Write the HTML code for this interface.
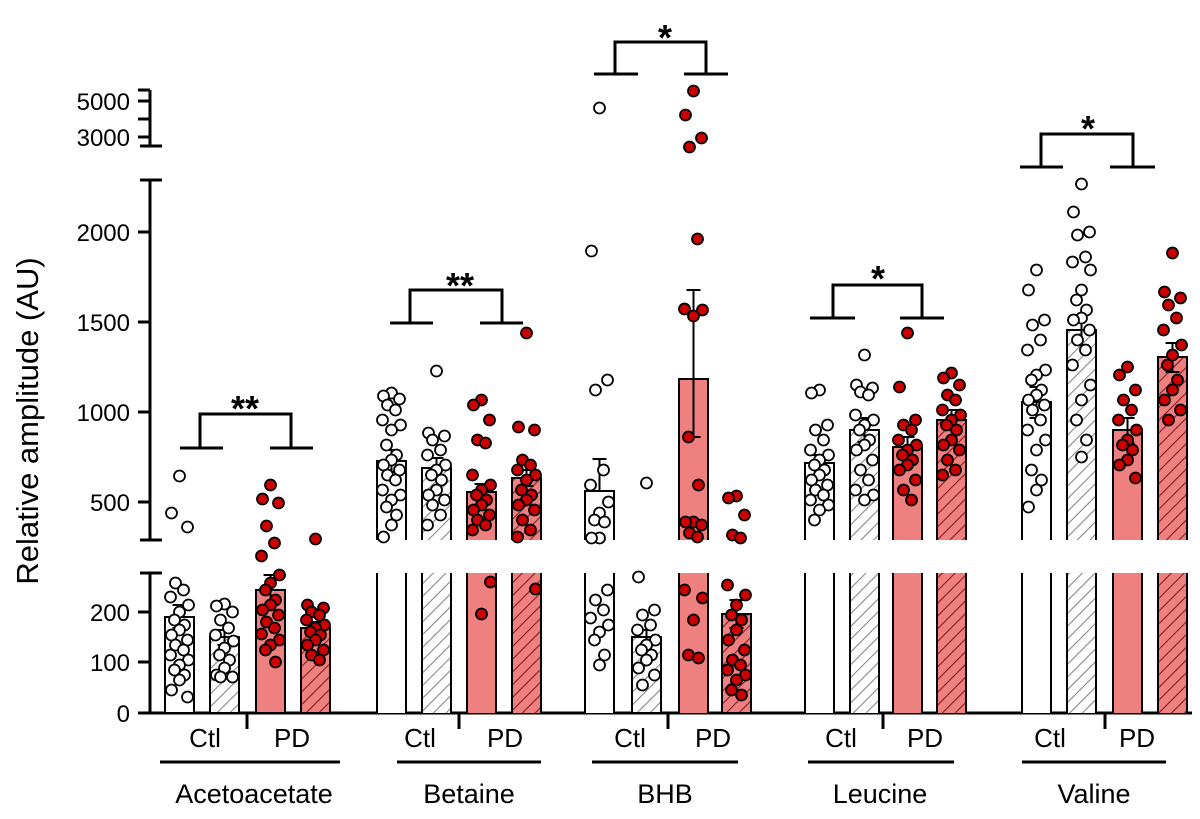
<!DOCTYPE html>
<html><head><meta charset="utf-8"><style>
body{margin:0;background:#fff;}
svg{display:block;font-family:"Liberation Sans",Arial,sans-serif;}
</style></head><body>
<svg id="s" width="1200" height="819" viewBox="0 0 1200 819" xmlns="http://www.w3.org/2000/svg">
<defs>
<pattern id="hw" patternUnits="userSpaceOnUse" width="9" height="9" patternTransform="rotate(45)"><rect width="9" height="9" fill="#fff"/><line x1="0" y1="0" x2="0" y2="9" stroke="#888" stroke-width="2.2"/></pattern>
<pattern id="hr" patternUnits="userSpaceOnUse" width="9" height="9" patternTransform="rotate(45)"><rect width="9" height="9" fill="#ee8080"/><line x1="0" y1="0" x2="0" y2="9" stroke="#8b1a1a" stroke-width="2.2"/></pattern>
</defs>
<g id="g"></g>
</svg>
<script>
var g=document.getElementById('g'),h='';
function L(x1,y1,x2,y2,w){h+='<line x1="'+x1+'" y1="'+y1+'" x2="'+x2+'" y2="'+y2+'" stroke="#000" stroke-width="'+(w||3)+'"/>';}
function T(x,y,t,s,a,extra){h+='<text x="'+x+'" y="'+y+'" font-size="'+(s||22)+'" text-anchor="'+(a||'middle')+'" '+(extra||'')+'>'+t+'</text>';}
L(150,573,150,713);L(140,573,162,573);
L(150,180,150,540);L(140,540,162,540);L(140,180,162,180);
L(150,90,150,146);L(140,146,162,146);
[[713,'0'],[662,'100'],[612,'200']].forEach(function(t){L(138,t[0],150,t[0]);T(130,t[0]+9,t[1],24,'end');});
[[502,'500'],[412,'1000'],[322,'1500'],[232,'2000']].forEach(function(t){L(138,t[0],150,t[0]);T(130,t[0]+9,t[1],24,'end');});
[[137,'3000'],[101,'5000']].forEach(function(t){L(138,t[0],150,t[0]);T(130,t[0]+9,t[1],24,'end');});
L(138,119,150,119);L(138,90,150,90);
h+='<text x="0" y="0" font-size="31" text-anchor="middle" transform="translate(38,421) rotate(-90)">Relative amplitude (AU)</text>';
L(148,713,1192,713);
var groups=[
{x:[165,210,256,301],name:'Acetoacetate',tick:247,ul:[160,340],lab:[205,292],gx:254,
 br:[448,414,180,223,270,313,200,291,'**',245,405],
 bars:[{m:617,e:[605,628],d:[476,513,527,583,590,597,605,612,620,625,630,635,640,645,650,655,660,665,670,675,680,690,697]},
 {m:637,e:[630,645],d:[604,606,612,620,628,635,641,648,655,660,668,675,677,677]},
 {m:590,e:[575,605],d:[485,499,503,526,543,556,575,583,590,600,605,610,615,622,628,634,640,645,650,662]},
 {m:628,e:[622,634],d:[539,605,608,612,615,620,625,628,632,635,640,645,650,655,660]}]},
{x:[377,422,467,512],name:'Betaine',tick:459,ul:[397,541],lab:[420,505],gx:469,
 br:[323,290,390,433,480,523,410,502,'**',460,282],
 bars:[{m:461,e:[450,472],d:[393,396,399,405,410,420,425,430,445,455,460,465,470,475,480,490,495,500,507,515,525,537]},
 {m:468,e:[458,478],d:[371,433,436,440,450,455,465,470,475,480,490,495,500,505,515,525]},
 {m:492,e:[484,500],d:[400,405,420,440,443,475,485,490,495,500,505,510,515,520,525,530,582,614]},
 {m:478,e:[470,486],d:[333,427,430,460,465,470,475,480,490,495,500,505,510,520,530,537,589]}]},
{x:[585,632,679,722],name:'BHB',tick:668,ul:[592,738],lab:[630,713],gx:665,
 br:[74,42,594,638,684,728,615,706,'*',665,34],
 bars:[{m:491,e:[459,491],d:[108,251,380,390,470,485,502,513,520,522,538,538,590,600,610,618,625,632,640,655,665]},
 {m:637,e:[630,644],d:[483,577,610,615,625,630,640,645,650,655,660,668,675,685]},
 {m:379,e:[290,437],d:[91,115,138,147,239,309,310,316,437,485,522,522,525,533,537,590,598,620,655,658]},
 {m:614,e:[600,628],d:[496,498,515,535,538,585,595,605,615,620,630,640,650,660,665,670,675,680,690,695]}]},
{x:[805,850,893,937],name:'Leucine',tick:883,ul:[808,954],lab:[841,925],gx:880,
 br:[318,285,810,855,900,944,833,922,'*',878,275],
 bars:[{m:463,e:[455,470],d:[390,393,425,430,440,450,455,460,465,470,475,480,485,490,495,500,505,510,520]},
 {m:430,e:[418,442],d:[355,385,388,392,395,415,420,425,430,440,445,450,460,470,480,490,495,500]},
 {m:447,e:[437,457],d:[333,387,420,425,430,440,445,450,455,460,465,470,480,490,500]},
 {m:420,e:[410,430],d:[373,378,385,395,400,410,415,420,425,430,440,445,450,460,470,475]}]},
{x:[1022,1067,1113,1158],name:'Valine',tick:1105,ul:[1022,1166],lab:[1050,1137],gx:1094,
 br:[167,134,1020,1063,1110,1155,1041,1133,'*',1088,125],
 bars:[{m:402,e:[387,418],d:[270,290,320,325,340,350,370,375,380,390,395,400,405,410,420,430,440,450,470,480,490,507]},
 {m:330,e:[315,345],d:[184,212,232,235,257,262,270,290,300,310,318,320,330,340,350,365,385,400,420,440,457]},
 {m:430,e:[418,443],d:[367,375,390,400,410,420,430,440,445,450,460,465,478]},
 {m:357,e:[343,372],d:[253,292,298,305,318,330,345,355,365,380,390,400,410,420]}]}
];
var fills=['#fff','url(#hw)','#ee8080','url(#hr)'];
var jit=[0,-8,8,-4,4,-9,9,0,-5,5];
var dots='';
groups.forEach(function(G){
 G.bars.forEach(function(B,i){
  var x=G.x[i],w=29,f=fills[i];
  if(B.m>=573){h+='<rect x="'+x+'" y="'+B.m+'" width="'+w+'" height="'+(713-B.m)+'" fill="'+f+'" stroke="#000" stroke-width="2"/>';}
  else{
   h+='<rect x="'+x+'" y="573" width="'+w+'" height="140" fill="'+f+'" stroke="none"/>';
   h+='<path d="M'+x+' 713 V573 M'+(x+w)+' 573 V713" stroke="#000" stroke-width="2"/>';
   if(B.m<=540){h+='<rect x="'+x+'" y="'+B.m+'" width="'+w+'" height="'+(540-B.m)+'" fill="'+f+'" stroke="none"/>';
    h+='<path d="M'+x+' 540 V'+B.m+' H'+(x+w)+' V540" fill="none" stroke="#000" stroke-width="2"/>';}
  }
  var cx=x+w/2;
  h+='<path d="M'+cx+' '+B.e[0]+' V'+B.e[1]+' M'+(cx-7)+' '+B.e[0]+' H'+(cx+7)+' M'+(cx-7)+' '+B.e[1]+' H'+(cx+7)+'" stroke="#000" stroke-width="2"/>';
  B.d.forEach(function(y,k){
   var dx=jit[k%jit.length];
   dots+='<circle cx="'+(cx+dx)+'" cy="'+y+'" r="5.5" fill="'+(i<2?'#fff':'#cc0000')+'" stroke="#000" stroke-width="1.8"/>';
  });
 });
 var b=G.br;
 L(b[2],b[0],b[3],b[0]);L(b[4],b[0],b[5],b[0]);
 h+='<path d="M'+b[6]+' '+b[0]+' V'+b[1]+' H'+b[7]+' V'+b[0]+'" fill="none" stroke="#000" stroke-width="3"/>';
 T(b[9],b[10]+16,b[8],36,'middle','font-weight="bold"');
 L(G.tick,713,G.tick,729,3);
 T(G.lab[0],747,'Ctl',26);T(G.lab[1],747,'PD',26);
 L(G.ul[0],762,G.ul[1],762,3);
 T(G.gx,803,G.name,27);
});
g.innerHTML=h+dots;
</script>
</body></html>
